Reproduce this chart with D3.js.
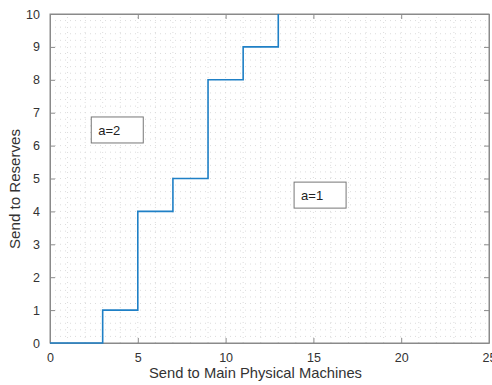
<!DOCTYPE html>
<html>
<head>
<meta charset="utf-8">
<script src="https://cdn.jsdelivr.net/npm/d3@7"></script>
<style>
  body { margin: 0; background: #fff; }
  svg { font-family: "Liberation Sans", Arial, sans-serif; }
</style>
</head>
<body>
<svg id="chart" width="492" height="385"></svg>
<script>
// step boundaries: machines sent vs reserves sent
const machines = [0, 3, 5, 7, 9, 11, 13];
const reserves = [0, 1, 4, 5, 8, 9, 10];
const xTicks = [0, 5, 10, 15, 20, 25];
const yTicks = [0, 1, 2, 3, 4, 5, 6, 7, 8, 9, 10];
const notes = [
  { text: 'a=2', x: 2.35, y: 6.08 },
  { text: 'a=1', x: 13.9, y: 4.1 }
];

const svg = d3.select('#chart');
const m = { left: 50, right: 3, top: 14, bottom: 42 };
const W = 492, H = 385;

const x = d3.scaleLinear().domain([0, 25]).range([m.left, W - m.right]);
const y = d3.scaleLinear().domain([0, 10]).range([H - m.bottom, m.top]);

// minor grid
const grid = svg.append('g').attr('stroke', '#dcdcdc').attr('stroke-width', 1).attr('stroke-dasharray', '1,4');
d3.range(1, 25).forEach(v => {
  grid.append('line').attr('x1', x(v)).attr('x2', x(v)).attr('y1', y(0)).attr('y2', y(10));
});
d3.range(1, 50).forEach(i => {
  const v = i * 0.2;
  grid.append('line').attr('x1', x(0)).attr('x2', x(25)).attr('y1', y(v)).attr('y2', y(v));
});

// box
svg.append('rect')
  .attr('x', x(0)).attr('y', y(10))
  .attr('width', x(25) - x(0)).attr('height', y(0) - y(10))
  .attr('fill', 'none').attr('stroke', '#8a8a8a').attr('stroke-width', 1);

// axes with inward ticks
const xAxis = svg.append('g').attr('transform', `translate(0,${y(0)})`)
  .call(d3.axisBottom(x).tickValues(xTicks).tickSizeInner(-5).tickSizeOuter(0).tickPadding(10));
const xAxisTop = svg.append('g').attr('transform', `translate(0,${y(10)})`)
  .call(d3.axisTop(x).tickValues(xTicks).tickSizeInner(-5).tickSizeOuter(0).tickFormat(''));
const yAxis = svg.append('g').attr('transform', `translate(${x(0)},0)`)
  .call(d3.axisLeft(y).tickValues(yTicks).tickSizeInner(-5).tickSizeOuter(0).tickPadding(10));
const yAxisRight = svg.append('g').attr('transform', `translate(${x(25)},0)`)
  .call(d3.axisRight(y).tickValues(yTicks).tickSizeInner(-5).tickSizeOuter(0).tickFormat(''));

[xAxis, xAxisTop, yAxis, yAxisRight].forEach(a => {
  a.select('.domain').attr('stroke', '#8a8a8a');
  a.selectAll('.tick line').attr('stroke', '#8a8a8a');
  a.selectAll('text').attr('font-size', 12.5).attr('fill', '#333').attr('font-family', '"Liberation Sans", Arial, sans-serif');
});

// step line
const line = d3.line()
  .x((d, i) => x(machines[i]))
  .y((d, i) => y(reserves[i]))
  .curve(d3.curveStepAfter);

svg.append('path')
  .datum(machines)
  .attr('d', line)
  .attr('fill', 'none')
  .attr('stroke', '#1f80c6')
  .attr('stroke-width', 1.6);

// annotation boxes
notes.forEach(n => {
  const g = svg.append('g').attr('transform', `translate(${x(n.x)},${y(n.y)})`);
  g.append('rect').attr('x', 0).attr('y', -26).attr('width', 52).attr('height', 26)
    .attr('fill', '#fff').attr('stroke', '#777').attr('stroke-width', 1);
  g.append('text').attr('x', 7).attr('y', -8).attr('font-size', 13).attr('fill', '#222').text(n.text);
});

// axis labels
svg.append('text')
  .attr('x', 255.5).attr('y', 378)
  .attr('text-anchor', 'middle').attr('font-size', 14.5).attr('fill', '#333')
  .attr('textLength', 213).attr('lengthAdjust', 'spacingAndGlyphs')
  .text('Send to Main Physical Machines');

svg.append('text')
  .attr('transform', 'translate(20,189) rotate(-90)')
  .attr('text-anchor', 'middle').attr('font-size', 14.5).attr('fill', '#333')
  .attr('textLength', 120).attr('lengthAdjust', 'spacingAndGlyphs')
  .text('Send to Reserves');
</script>
</body>
</html>
